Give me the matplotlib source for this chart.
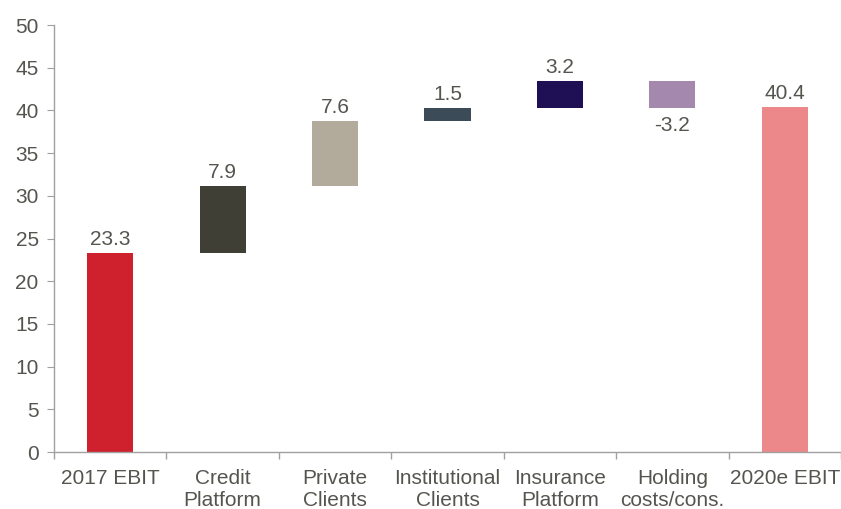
import matplotlib
matplotlib.use("Agg")
import matplotlib.pyplot as plt
import numpy as np

categories = ["2017 EBIT", "Credit\nPlatform", "Private\nClients", "Institutional\nClients",
              "Insurance\nPlatform", "Holding\ncosts/cons.", "2020e EBIT"]
values = [23.3, 7.9, 7.6, 1.5, 3.2, -3.2, 40.4]
is_total = [True, False, False, False, False, False, True]
colors = ["#CF202E", "#3F3F36", "#B2AA9A", "#3B4B58", "#1F1056", "#A588AE", "#EC8889"]
labels = ["23.3", "7.9", "7.6", "1.5", "3.2", "-3.2", "40.4"]

plt.rcParams['font.family'] = ['Liberation Sans', 'DejaVu Sans']
text_color = "#555550"
spine_color = "#A0A0A0"
fs = 15

fig = plt.figure(figsize=(8.41, 5.09), dpi=100)
ax = fig.add_axes([54/841, 57/509, (841-54)/841, (452-25)/509])

x = np.arange(len(categories))
running = 0.0
for i, (v, tot) in enumerate(zip(values, is_total)):
    if tot:
        bottom, height = 0, v
        running = v
    else:
        bottom, height = running, v
        running += v
    ax.bar(x[i], height, bottom=bottom, width=0.41, color=colors[i], zorder=2)
    top = max(bottom, bottom + height)
    low = min(bottom, bottom + height)
    if v >= 0:
        ax.text(x[i], top + 0.45, labels[i], ha='center', va='bottom', fontsize=fs, color=text_color)
    else:
        ax.text(x[i], low - 1.0, labels[i], ha='center', va='top', fontsize=fs, color=text_color)

ax.set_xlim(-0.5, len(categories) - 0.5)
ax.set_ylim(0, 50)
ax.set_yticks(np.arange(0, 51, 5))
ax.set_xticks(x)
ax.set_xticklabels(categories, fontsize=fs, color=text_color, linespacing=1.25)
ax.tick_params(axis='x', length=0, pad=12)
ax.set_xticks(np.arange(-0.5, len(categories) - 0.4, 1), minor=True)
ax.tick_params(axis='x', which='minor', length=5, color=spine_color, width=1)
ax.tick_params(axis='y', length=5, color=spine_color, labelsize=fs, labelcolor=text_color, pad=6)

for s in ['top', 'right']:
    ax.spines[s].set_visible(False)
for s in ['left', 'bottom']:
    ax.spines[s].set_color(spine_color)
    ax.spines[s].set_linewidth(1)

fig.savefig("out.png", dpi=100)
